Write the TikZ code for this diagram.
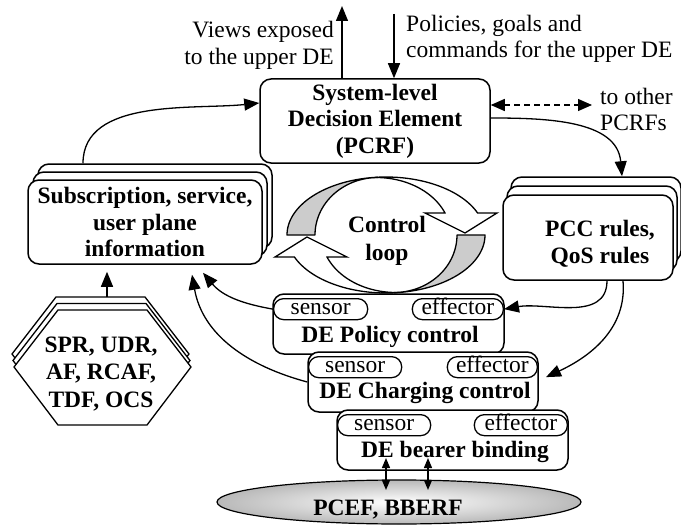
\documentclass[tikz,border=0pt]{standalone}
\usepackage{fontspec}
\setmainfont{Liberation Serif}
\usetikzlibrary{arrows.meta,shapes.geometric}

% one half of the circular "control loop" arrow, drawn around the origin
\newcommand{\loophalf}{%
  \filldraw[line width=1.3pt, fill=gray!40, line join=round]
    plot[domain=180:95, samples=40] ({99*cos(\x)},{-58*sin(\x)})
    -- plot[domain=90:180, samples=40] ({-8+63*cos(\x)},{-57.5*sin(\x)}) -- cycle;
  \filldraw[line width=1.3pt, fill=white, line join=miter]
    plot[domain=95:22.3, samples=40] ({99*cos(\x)},{-58*sin(\x)})
    -- (111,-22) -- (79,-2) -- (39,-22) -- (59,-22)
    -- plot[domain=22.5:90, samples=40] ({-10+74.7*cos(\x)},{-57.5*sin(\x)}) -- cycle;
}

\begin{document}
\begin{tikzpicture}[x=1pt,y=-1pt,
  txt/.style={font=\fontsize{23.5}{26.5}\selectfont, inner sep=0pt},
  bold/.style={font=\fontsize{23.5}{26.5}\selectfont\bfseries, inner sep=0pt, align=center},
  box/.style={draw, line width=1.5pt, rounded corners=11pt, fill=white, inner sep=0pt},
  pill/.style={draw, line width=1.3pt, rounded corners=10pt, fill=white, inner sep=0pt,
    minimum height=21pt, text height=10pt, text depth=0pt,
    font=\fontsize{23.5}{26.5}\selectfont},
  link/.style={line width=1.3pt, -{Triangle[length=15pt,width=12pt]}},
  dlink/.style={line width=1.3pt, {Triangle[length=10pt,width=8pt]}-{Triangle[length=10pt,width=8pt]}},
  dashlink/.style={line width=1.3pt, dashed, dash pattern=on 6pt off 4pt,
    {Triangle[length=14pt,width=12pt]}-{Triangle[length=14pt,width=12pt]}},
  hexagon/.style={line width=1.3pt, fill=white, line join=miter}
]
\useasboundingbox (0,0) rectangle (681,527);
\fill[white] (0,0) rectangle (681,527);

% ---------- system-level decision element ----------
\node[box, bold, minimum width=230pt, minimum height=84pt] (pcrf) at (375,121)
  {System-level\\Decision Element\\(PCRF)};

\coordinate (viewsTop) at (342,6);
\coordinate (cmdTop) at (394,14);
\draw[link] ([xshift=-33pt]pcrf.north) -- (viewsTop);
\draw[link] (cmdTop) -- ([xshift=19pt]pcrf.north);
\node[txt, align=right, anchor=east] (views) at (334,45.5) {Views exposed\\to the upper DE};
\node[txt, align=left, anchor=west] (cmds) at (406,39) {Policies, goals and\\commands for the upper DE};

\coordinate (otherEnd) at (592,105);
\draw[dashlink] ([yshift=16pt]pcrf.east) -- (otherEnd);
\node[txt, align=left, anchor=west] (others) at (600,109.5) {to other\\PCRFs};

% ---------- information stack ----------
\node[box, minimum width=234pt, minimum height=84pt] (sub3) at (155,206) {};
\node[box, minimum width=234pt, minimum height=84pt] (sub2) at (150,214) {};
\node[box, bold, minimum width=234pt, minimum height=84pt] (sub) at (145,222)
  {Subscription, service,\\user plane\\information};
\draw[link] ([xshift=-72pt]sub3.north) to[out=90, in=186, looseness=0.9] ([yshift=18pt]pcrf.west);

% ---------- rules stack ----------
\node[box, minimum width=170pt, minimum height=85pt] (pcc3) at (596,219.5) {};
\node[box, minimum width=170pt, minimum height=85pt] (pcc2) at (592,228.5) {};
\node[box, minimum width=170pt, minimum height=85pt] (pcc) at (588,237.5) {};
\node[bold] (pcctext) at (600,244) {PCC rules,\\QoS rules};
\draw[link] ([yshift=3pt]pcrf.east) to[out=0, in=95] ([xshift=26pt]pcc3.north);

% ---------- data sources ----------
\foreach \dx/\dy in {-2/-13, -1/-6.5, 0/0}
  \filldraw[hexagon, shift={(\dx,\dy)}]
    (58,310) -- (147,310) -- (191,367) -- (147,425) -- (58,425) -- (14,367) -- cycle;
\node[bold, font=\fontsize{23.5}{27.5}\selectfont\bfseries] (hex) at (101,374) {SPR, UDR,\\AF, RCAF,\\TDF, OCS};
\coordinate (hexTop) at (107,297);
\draw[link] (hexTop) -- ([xshift=-38pt, yshift=-7pt]sub.south);

% ---------- control loop ----------
\begin{scope}[shift={(386,235)}]
  \loophalf
\end{scope}
\begin{scope}[shift={(386,235)}, rotate=180]
  \loophalf
\end{scope}
\node[bold, font=\fontsize{23.5}{28}\selectfont\bfseries] (loop) at (387,241) {Control\\loop};

% ---------- decision elements ----------
\node[box, minimum width=231pt, minimum height=60pt] (pol) at (388.5,324) {};
\node[pill, minimum width=94pt, anchor=north west] (polS) at (273,298) {sensor};
\node[pill, minimum width=91pt, anchor=north east] (polE) at (504,298) {effector};
\node[bold] (polT) at (390,337) {DE Policy control};

\node[box, minimum width=230pt, minimum height=60pt] (ch) at (423,382) {};
\node[pill, minimum width=93pt, anchor=north west] (chS) at (308,356) {sensor};
\node[pill, minimum width=90pt, anchor=north east] (chE) at (538,356) {effector};
\node[bold] (chT) at (425,393) {DE Charging control};

\node[box, minimum width=231pt, minimum height=60pt] (br) at (452.5,440) {};
\node[pill, minimum width=93pt, anchor=north west] (brS) at (337,414) {sensor};
\node[pill, minimum width=93pt, anchor=north east] (brE) at (568,414) {effector};
\node[bold] (brT) at (455,452) {DE bearer binding};

% sensors report to the information stack
\draw[link] (polS.west) to[out=170, in=-50] ([xshift=58pt, yshift=-8pt]sub.south);
\draw[link] (ch.west) to[out=165, in=-80] ([xshift=47pt, yshift=-10pt]sub.south);

% rules drive the effectors
\draw[link] ([xshift=19pt]pcc.south) to[out=-90, in=10] (polE.east);
\draw[link] ([xshift=35pt]pcc.south) to[out=-85, in=25] ([xshift=8pt, yshift=-10pt]chE.east);

% ---------- enforcement functions ----------
\node[ellipse, draw, line width=1.2pt, minimum width=364pt, minimum height=44pt,
  inner color=white, outer color=gray!55] (pcef) at (399,502) {};
\node[bold] (pceflbl) at (388,510) {PCEF, BBERF};
\draw[dlink] ([xshift=-13pt, yshift=12pt]pcef.center) -- ([xshift=-66.5pt, yshift=-18pt]br.center);
\draw[dlink] ([xshift=29pt, yshift=12pt]pcef.center) -- ([xshift=-24.5pt, yshift=-18pt]br.center);
\end{tikzpicture}
\end{document}
